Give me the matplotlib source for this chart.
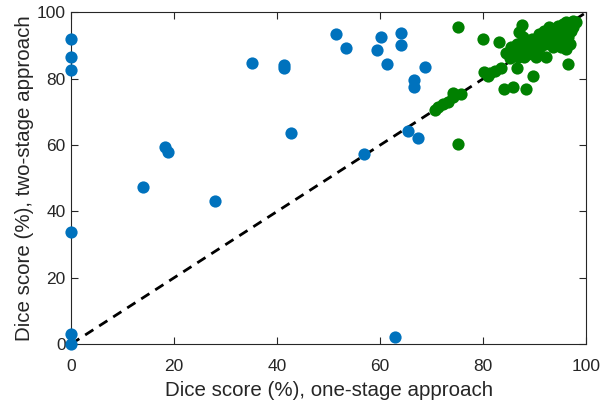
import matplotlib
matplotlib.use("Agg")
import matplotlib.pyplot as plt

blue_x = [0, 0, 0, 0, 0, 0, 13.9, 18.2, 18.8, 27.9, 35.1, 41.3, 41.3, 42.7,
          51.4, 53.3, 56.8, 59.3, 60.1, 61.3, 62.9, 64.0, 64.0, 65.4, 66.5,
          66.5, 67.3, 68.7]
blue_y = [92.0, 86.7, 82.7, 33.8, 3.0, 0.0, 47.4, 59.4, 57.9, 43.1, 84.8, 84.2,
          83.3, 63.6, 93.5, 89.3, 57.3, 88.7, 92.6, 84.5, 2.1, 93.8, 90.3,
          64.2, 79.6, 77.6, 62.1, 83.6]

green_x = [70.6, 71.3, 72.2, 73.2, 74.2, 74.2, 75.8, 75.2, 75.2,
           79.9, 83.0, 80.1, 81.3, 82.3, 83.4, 80.9, 84.0, 85.8, 88.4, 89.7,
           86.5, 96.5, 96.0, 92.3, 90.4, 88.0, 84.5, 85.2, 87.5, 87.0,
           85.5, 86.5, 86.0, 87.5, 88.5, 88.0, 89.0, 89.5, 90.0, 90.5,
           91.0, 91.5, 91.0, 92.0, 92.5, 92.5, 93.0, 93.0, 93.5, 93.5,
           94.0, 94.0, 94.5, 94.5, 95.0, 95.0, 95.5, 95.5, 96.0, 96.0,
           96.5, 96.5, 97.0, 97.0, 97.5, 97.5, 98.0, 96.8, 95.8, 94.8,
           93.8, 92.8, 91.8, 90.8, 89.8, 88.8, 87.8, 86.8, 90.2, 95.2, 96.8]
green_y = [70.6, 71.4, 72.4, 73.1, 74.6, 75.8, 75.4, 60.3, 95.5,
           92.0, 91.0, 82.1, 81.8, 82.4, 83.2, 80.8, 76.8, 77.6, 76.8, 80.8,
           83.2, 84.5, 88.9, 86.5, 87.2, 86.7, 87.7, 86.2, 96.2, 94.2,
           89.5, 90.5, 88.0, 89.0, 91.0, 88.5, 89.5, 92.0, 90.5, 88.5,
           91.5, 93.0, 89.5, 90.5, 92.0, 94.0, 91.0, 93.0, 95.0, 89.5,
           92.0, 94.0, 96.0, 90.5, 93.0, 95.0, 96.5, 91.5, 94.0, 97.0,
           95.5, 92.5, 96.5, 94.5, 97.5, 95.5, 97.0, 96.8, 93.8, 94.8,
           92.8, 95.5, 94.5, 93.5, 91.0, 87.5, 92.5, 86.5, 86.5, 89.5, 90.5]

x_ticks = [0, 20, 40, 60, 80, 100]
y_ticks = [0, 20, 40, 60, 80, 100]

plt.rcParams['font.family'] = ['Liberation Sans', 'DejaVu Sans']

fig = plt.figure(figsize=(6.03, 4.03), dpi=100)
ax = fig.add_axes([0.118, 0.1464, 0.854, 0.8226])

ax.plot([0, 100], [0, 100], color='black', linestyle=(0, (3.5, 2.5)),
        linewidth=2, zorder=1, clip_on=False)
ax.plot(blue_x, blue_y, 'o', color='#0072BD', markersize=8.8,
        markeredgewidth=0, zorder=3, clip_on=False)
ax.plot(green_x, green_y, 'o', color='#008000', markersize=8.8,
        markeredgewidth=0, zorder=3, clip_on=False)

ax.set_xlim(0, 100)
ax.set_ylim(0, 100)
ax.set_xticks(x_ticks)
ax.set_yticks(y_ticks)
ax.tick_params(direction='in', length=5, width=0.8, top=True, right=True,
               labelsize=12.5, colors='#262626')
ax.tick_params(axis='x', pad=10.5)
ax.tick_params(axis='y', pad=4)
for s in ax.spines.values():
    s.set_color('#262626')
    s.set_linewidth(0.8)

ax.set_xlabel('Dice score (%), one-stage approach', fontsize=14.8,
              color='#262626', labelpad=5)
ax.set_ylabel('Dice score (%), two-stage approach', fontsize=14.8,
              color='#262626', labelpad=2)

fig.savefig('out.png', dpi=100)
